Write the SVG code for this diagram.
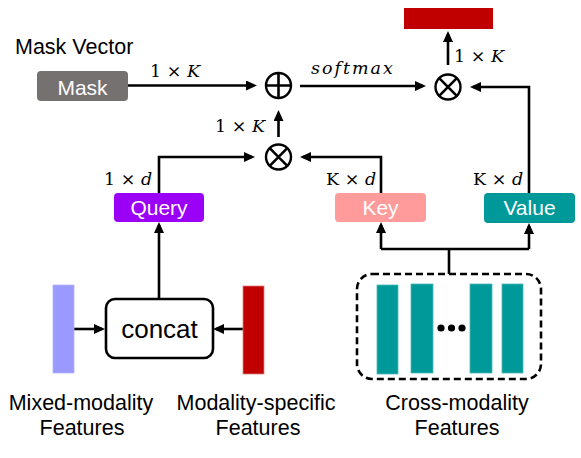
<svg xmlns="http://www.w3.org/2000/svg" width="581" height="458" viewBox="0 0 581 458">
<style>
.lbl{font-family:"Liberation Sans",Arial,sans-serif;font-size:21.5px;fill:#000}
.nt{font-family:"Liberation Sans",Arial,sans-serif;font-size:21px;fill:#fff;text-anchor:middle}
.m{font-family:"DejaVu Serif","Liberation Serif",serif;font-size:17.5px;fill:#000}
.it{font-style:italic}
.c{fill:none;stroke:#000;stroke-width:2.6}
.op{fill:#fff;stroke:#000;stroke-width:2.4}
</style>
<defs>
<marker id="ah" viewBox="0 0 11 10" refX="8" refY="5" markerWidth="11" markerHeight="10" markerUnits="userSpaceOnUse" orient="auto">
<path d="M0,0 L11,5 L0,10 z" fill="#000"/>
</marker>
</defs>
<rect width="581" height="458" fill="#fff"/>

<g id="connectors">
<path class="c" d="M128 85.5 H254" marker-end="url(#ah)"/>
<path class="c" d="M300 86 H423" marker-end="url(#ah)"/>
<path class="c" d="M278.5 137 V113" marker-end="url(#ah)"/>
<path class="c" d="M159 193 V157 H252" marker-end="url(#ah)"/>
<path class="c" d="M381 193 V157 H303" marker-end="url(#ah)"/>
<path class="c" d="M529 193 V87 H473" marker-end="url(#ah)"/>
<path class="c" d="M448 65 V34" marker-end="url(#ah)"/>
<path class="c" d="M159 298 V225" marker-end="url(#ah)"/>
<path class="c" d="M74 329 H102" marker-end="url(#ah)"/>
<path class="c" d="M243 329 H216" marker-end="url(#ah)"/>
<path class="c" d="M449 274 V249"/>
<path class="c" d="M381 249 H529"/>
<path class="c" d="M381 249 V225" marker-end="url(#ah)"/>
<path class="c" d="M529 249 V226" marker-end="url(#ah)"/>
</g>

<g id="labels">
<text class="m" x="150" y="77">1 × <tspan class="it">K</tspan></text>
<text class="m" x="215" y="132">1 × <tspan class="it">K</tspan></text>
<text class="m" x="454" y="62">1 × <tspan class="it">K</tspan></text>
<text class="m" x="104" y="185">1 × <tspan class="it">d</tspan></text>
<text class="m" x="326" y="185">K × <tspan class="it">d</tspan></text>
<text class="m" x="473" y="185">K × <tspan class="it">d</tspan></text>
<text class="m it" x="311" y="74" letter-spacing="2">softmax</text>
</g>

<g id="mask-vector">
<text class="lbl" x="15" y="54">Mask Vector</text>
<rect x="37" y="71" width="91" height="30" rx="4" fill="#767171"/>
<text class="nt" x="82.5" y="94.5">Mask</text>
</g>

<g id="oplus">
<circle class="op" cx="278.5" cy="85.5" r="12.5"/>
<path class="c" stroke-width="2.2" d="M266 85.5 H291 M278.5 73 V98"/>
</g>

<g id="otimes1">
<circle class="op" cx="278.5" cy="157" r="12.5"/>
<path class="c" stroke-width="2.2" d="M269.7 148.2 L287.3 165.8 M287.3 148.2 L269.7 165.8"/>
</g>

<g id="otimes2">
<circle class="op" cx="448" cy="87" r="12.5"/>
<path class="c" stroke-width="2.2" d="M439.2 78.2 L456.8 95.8 M456.8 78.2 L439.2 95.8"/>
</g>

<g id="output">
<rect x="404" y="8" width="89" height="21" fill="#C00000"/>
</g>

<g id="query">
<rect x="114" y="193" width="90" height="29" rx="4" fill="#9B00F7"/>
<text class="nt" x="159" y="214.5">Query</text>
</g>

<g id="key">
<rect x="335" y="193" width="91" height="29" rx="4" fill="#FF9B9B"/>
<text class="nt" x="380.5" y="214.5">Key</text>
</g>

<g id="value">
<rect x="484" y="193" width="91" height="30" rx="4" fill="#009999"/>
<text class="nt" x="529.5" y="215">Value</text>
</g>

<g id="concat">
<rect x="106" y="299" width="107" height="59" rx="9" fill="#fff" stroke="#000" stroke-width="2.6"/>
<text x="159.5" y="338" font-family="Liberation Sans, Arial, sans-serif" font-size="26" text-anchor="middle">concat</text>
</g>

<g id="mixed-modality">
<rect x="53" y="285" width="21" height="88" fill="#9999FF" stroke="#B3B3FF" stroke-width="0.8"/>
<text class="lbl" x="81" y="410" text-anchor="middle">Mixed-modality</text>
<text class="lbl" x="82" y="435" text-anchor="middle">Features</text>
</g>

<g id="modality-specific">
<rect x="243" y="286" width="21" height="88" fill="#C00000" stroke="#E08080" stroke-width="0.8"/>
<text class="lbl" x="256" y="410" text-anchor="middle">Modality-specific</text>
<text class="lbl" x="258" y="435" text-anchor="middle">Features</text>
</g>

<g id="cross-modality">
<rect x="357" y="274" width="184" height="105" rx="15" fill="none" stroke="#000" stroke-width="2.6" stroke-dasharray="7,4"/>
<rect x="377" y="285" width="21" height="89" fill="#009999" stroke="#4DB8B8" stroke-width="0.8"/>
<rect x="411" y="284" width="22" height="89" fill="#009999" stroke="#4DB8B8" stroke-width="0.8"/>
<rect x="470" y="284" width="22" height="89" fill="#009999" stroke="#4DB8B8" stroke-width="0.8"/>
<rect x="502" y="284" width="21" height="89" fill="#009999" stroke="#4DB8B8" stroke-width="0.8"/>
<circle cx="441" cy="328" r="3.6" fill="#000"/>
<circle cx="451.5" cy="328" r="3.6" fill="#000"/>
<circle cx="462" cy="328" r="3.6" fill="#000"/>
<text class="lbl" x="457" y="410" text-anchor="middle">Cross-modality</text>
<text class="lbl" x="457" y="435" text-anchor="middle">Features</text>
</g>
</svg>
